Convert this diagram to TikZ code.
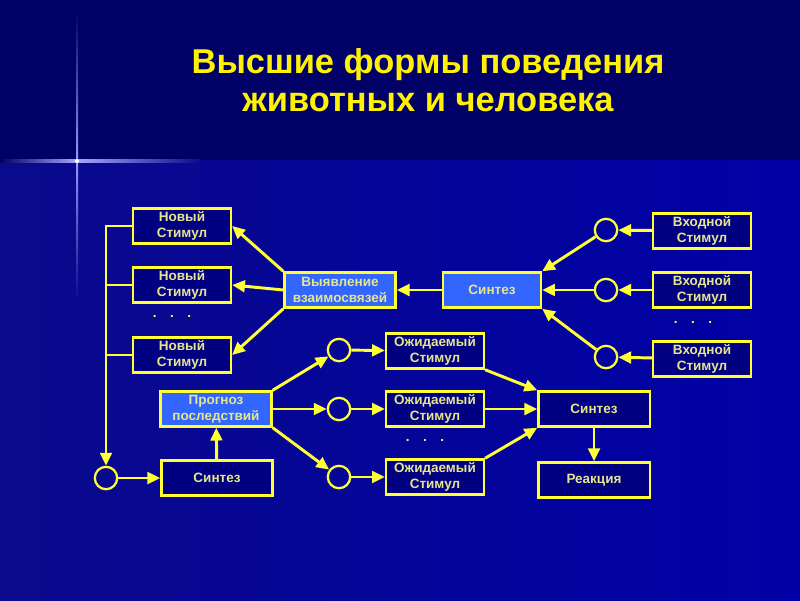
\documentclass[tikz,border=0pt]{standalone}
\usepackage{fontspec}
\setmainfont{Liberation Sans}
\usetikzlibrary{arrows.meta}

\definecolor{bgtop}{HTML}{000066}
\definecolor{bgleft}{HTML}{0A0A8C}
\definecolor{bgright}{HTML}{0000A6}
\definecolor{boxfill}{HTML}{000080}
\definecolor{hifill}{HTML}{3366FF}
\definecolor{lineyel}{HTML}{FFFF33}
\definecolor{txtyel}{HTML}{E6E68C}

\tikzset{
  stimbox/.style={draw=lineyel, fill=boxfill, line width=1.6pt, minimum width=2.45cm,
    minimum height=0.88cm, inner sep=0pt, align=center, text=txtyel,
    font=\bfseries\fontsize{9.6}{11.5}\selectfont},
  widebox/.style={stimbox, minimum width=2.78cm},
  hibox/.style={widebox, fill=hifill},
  ring/.style={circle, draw=lineyel, line width=1.6pt, minimum size=0.56cm, inner sep=0pt},
  link/.style={draw=lineyel, line width=2.1pt},
  arr/.style={link, -{Triangle[length=3.2mm,width=2.9mm]}},
  dots/.style={text=lineyel, font=\bfseries\fontsize{9.6}{11}\selectfont}
}

\begin{document}
\begin{tikzpicture}[x=0.025cm, y=-0.025cm]

  % Background
  \useasboundingbox (0,0) rectangle (800,600);
  \shade[left color=bgleft, right color=bgright] (0,160) rectangle (800,600);
  \fill[bgtop] (0,0) rectangle (800,160);

  % Light flare
  \shade[top color=bgtop, bottom color=blue!40!white] (76,10) rectangle (78,161);
  \shade[top color=blue!40!white, bottom color=bgleft] (76,161) rectangle (78,300);
  \shade[left color=bgtop, right color=blue!35!white] (0,159.5) rectangle (77,162.5);
  \shade[left color=blue!35!white, right color=bgleft] (77,159.5) rectangle (200,162.5);
  \fill[white] (77,161) circle (2);

  % Title
  \node[text=yellow, font=\bfseries\fontsize{24.5}{27}\selectfont, align=center] (title) at (428,80)
    {Высшие формы поведения\\животных и человека};

  % New stimuli (left column)
  \node[stimbox] (n1) at (182,226) {Новый\\Стимул};
  \node[stimbox] (n2) at (182,285) {Новый\\Стимул};
  \node[stimbox] (n3) at (182,355) {Новый\\Стимул};
  \node[dots] (d1) at (172,316) {.\quad.\quad.};

  % Upper row
  \node[hibox] (vz) at (340,290) {Выявление\\взаимосвязей};
  \node[hibox, minimum width=2.45cm] (sy) at (492,290) {Синтез};

  % Input stimuli (right column)
  \node[ring] (c1) at (606,230) {};
  \node[ring] (c2) at (606,290) {};
  \node[ring] (c3) at (606,357) {};
  \node[stimbox] (in1) at (702,231) {Входной\\Стимул};
  \node[stimbox] (in2) at (702,290) {Входной\\Стимул};
  \node[stimbox] (in3) at (702,359) {Входной\\Стимул};
  \node[dots] (d2) at (693,322) {.\quad.\quad.};

  % Lower part
  \node[hibox] (pr) at (216,409) {Прогноз\\последствий};
  \node[widebox] (sb) at (217,478) {Синтез};
  \node[ring] (lc) at (106,478) {};

  \node[ring] (m1) at (339,350) {};
  \node[ring] (m2) at (339,409) {};
  \node[ring] (m3) at (339,477) {};
  \node[stimbox] (o1) at (435,351) {Ожидаемый\\Стимул};
  \node[stimbox] (o2) at (435,409) {Ожидаемый\\Стимул};
  \node[stimbox] (o3) at (435,477) {Ожидаемый\\Стимул};
  \node[dots] (d3) at (425,440) {.\quad.\quad.};

  \node[widebox] (s2) at (594,409) {Синтез};
  \node[widebox] (re) at (594,480) {Реакция};

  % Inputs to synthesis
  \foreach \i in {1,2,3} {
    \draw[arr] (in\i) -- (c\i);
  }
  \draw[arr] (c1) -- (sy.north east);
  \draw[arr] (c2) -- (sy.east);
  \draw[arr] (c3) -- (sy.south east);
  \draw[arr] (sy) -- (vz);

  % Detected relations to new stimuli
  \draw[arr] (vz.north west) -- (n1.east);
  \draw[arr] (vz.west) -- (n2.east);
  \draw[arr] (vz.south west) -- (n3.east);

  % Feedback line
  \draw[arr] (n1.west) -| (lc.north);
  \draw[link] (n2.west) -- (n2.west -| lc);
  \draw[link] (n3.west) -- (n3.west -| lc);
  \draw[arr] (lc) -- (sb);
  \draw[arr] (sb) -- (pr);

  % Forecast to expected stimuli
  \draw[arr] (pr.north east) -- (m1);
  \draw[arr] (pr.east) -- (m2);
  \draw[arr] (pr.south east) -- (m3);
  \foreach \i in {1,2,3} {
    \draw[arr] (m\i) -- (o\i);
  }
  \draw[arr] (o1.south east) -- (s2.north west);
  \draw[arr] (o2) -- (s2);
  \draw[arr] (o3.north east) -- (s2.south west);
  \draw[arr] (s2) -- (re);
\end{tikzpicture}
\end{document}
